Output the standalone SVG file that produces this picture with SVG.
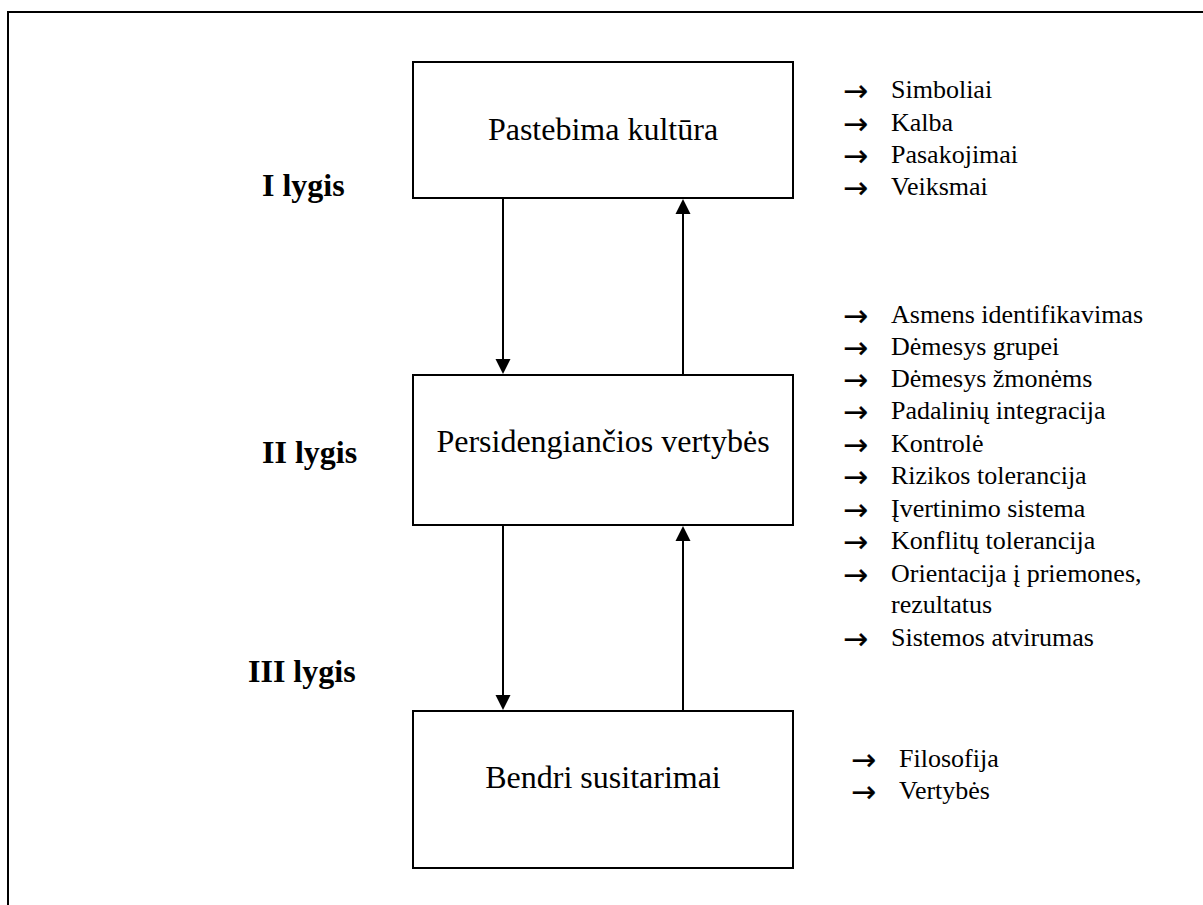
<svg xmlns="http://www.w3.org/2000/svg" width="1203" height="905" viewBox="0 0 1203 905">
<style>
.box{fill:#fff;stroke:#000;stroke-width:2}
.frame{fill:none;stroke:#000;stroke-width:2}
.conn{stroke:#000;stroke-width:2;fill:none}
.bt{font-family:"Liberation Serif","Times New Roman",serif;font-size:32px;fill:#000;text-anchor:middle}
.lvl{font-family:"Liberation Serif","Times New Roman",serif;font-size:32px;font-weight:bold;fill:#000}
.li{font-family:"Liberation Serif","Times New Roman",serif;font-size:26px;fill:#000}
.ar{font-family:"DejaVu Sans",sans-serif;font-size:30px;fill:#000;stroke:#000;stroke-width:0.25}
</style>
<rect width="1203" height="905" fill="#fff"/>
<path class="frame" d="M8,905 L8,12 L1203,12"/>

<g id="node-pastebima">
<rect class="box" x="413" y="62" width="380" height="136"/>
<text class="bt" x="603" y="140">Pastebima kultūra</text>
</g>
<g id="node-persidengiancios">
<rect class="box" x="413" y="375" width="380" height="150"/>
<text class="bt" x="603" y="452">Persidengiančios vertybės</text>
</g>
<g id="node-bendri">
<rect class="box" x="413" y="711" width="380" height="157"/>
<text class="bt" x="603" y="788">Bendri susitarimai</text>
</g>

<g id="connectors">
<path d="M503,198 L503,359" class="conn"/>
<path d="M495.5,359 L510.5,359 L503,374 Z" fill="#000"/>
<path d="M683,375 L683,214" class="conn"/>
<path d="M675.5,214 L690.5,214 L683,199 Z" fill="#000"/>
<path d="M503,525 L503,695" class="conn"/>
<path d="M495.5,695 L510.5,695 L503,710 Z" fill="#000"/>
<path d="M683,711 L683,541" class="conn"/>
<path d="M675.5,541 L690.5,541 L683,526 Z" fill="#000"/>
</g>

<g id="levels">
<text class="lvl" x="262" y="196">I lygis</text>
<text class="lvl" x="262" y="463">II lygis</text>
<text class="lvl" x="248" y="682">III lygis</text>
</g>

<g id="list-1">
<text class="ar" x="843" y="101" textLength="25" lengthAdjust="spacingAndGlyphs">→</text>
<text class="li" x="891" y="98">Simboliai</text>
<text class="ar" x="843" y="134" textLength="25" lengthAdjust="spacingAndGlyphs">→</text>
<text class="li" x="891" y="131">Kalba</text>
<text class="ar" x="843" y="166" textLength="25" lengthAdjust="spacingAndGlyphs">→</text>
<text class="li" x="891" y="163">Pasakojimai</text>
<text class="ar" x="843" y="198" textLength="25" lengthAdjust="spacingAndGlyphs">→</text>
<text class="li" x="891" y="195">Veiksmai</text>
</g>

<g id="list-2">
<text class="ar" x="843" y="326" textLength="25" lengthAdjust="spacingAndGlyphs">→</text>
<text class="li" x="891" y="323">Asmens identifikavimas</text>
<text class="ar" x="843" y="358" textLength="25" lengthAdjust="spacingAndGlyphs">→</text>
<text class="li" x="891" y="355">Dėmesys grupei</text>
<text class="ar" x="843" y="390" textLength="25" lengthAdjust="spacingAndGlyphs">→</text>
<text class="li" x="891" y="387">Dėmesys žmonėms</text>
<text class="ar" x="843" y="422" textLength="25" lengthAdjust="spacingAndGlyphs">→</text>
<text class="li" x="891" y="419">Padalinių integracija</text>
<text class="ar" x="843" y="455" textLength="25" lengthAdjust="spacingAndGlyphs">→</text>
<text class="li" x="891" y="452">Kontrolė</text>
<text class="ar" x="843" y="487" textLength="25" lengthAdjust="spacingAndGlyphs">→</text>
<text class="li" x="891" y="484">Rizikos tolerancija</text>
<text class="ar" x="843" y="520" textLength="25" lengthAdjust="spacingAndGlyphs">→</text>
<text class="li" x="891" y="517">Įvertinimo sistema</text>
<text class="ar" x="843" y="552" textLength="25" lengthAdjust="spacingAndGlyphs">→</text>
<text class="li" x="891" y="549">Konflitų tolerancija</text>
<text class="ar" x="843" y="585" textLength="25" lengthAdjust="spacingAndGlyphs">→</text>
<text class="li" x="891" y="582">Orientacija į priemones,</text>
<text class="li" x="891" y="613">rezultatus</text>
<text class="ar" x="843" y="649" textLength="25" lengthAdjust="spacingAndGlyphs">→</text>
<text class="li" x="891" y="646">Sistemos atvirumas</text>
</g>

<g id="list-3">
<text class="ar" x="851" y="770" textLength="25" lengthAdjust="spacingAndGlyphs">→</text>
<text class="li" x="899" y="767">Filosofija</text>
<text class="ar" x="851" y="802" textLength="25" lengthAdjust="spacingAndGlyphs">→</text>
<text class="li" x="899" y="799">Vertybės</text>
</g>
</svg>
